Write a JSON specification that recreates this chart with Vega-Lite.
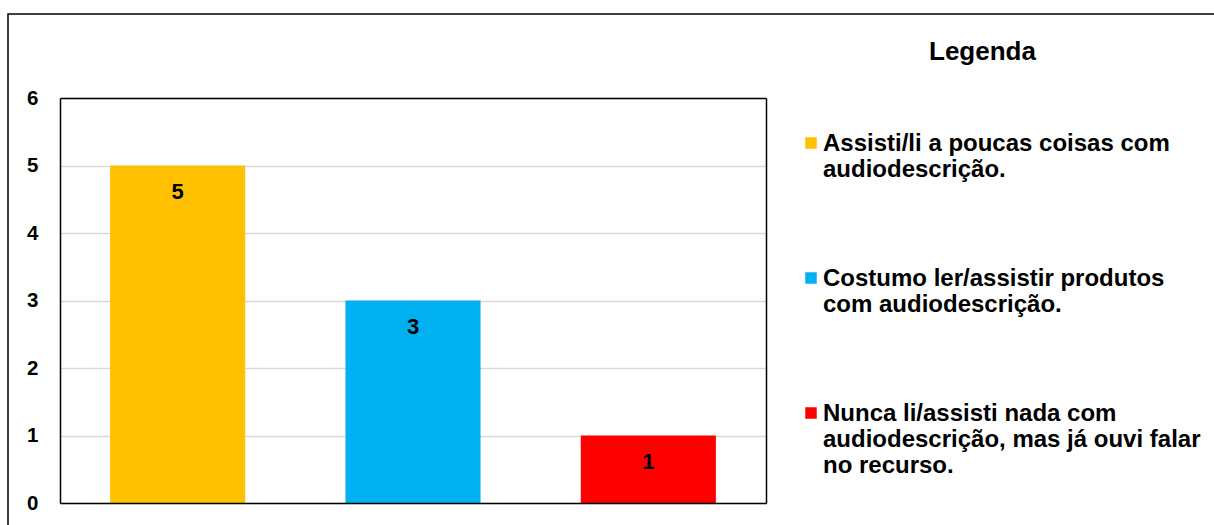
{
  "$schema": "https://vega.github.io/schema/vega-lite/v6.json",
  "autosize": {"type": "none"},
  "padding": {"left": 8, "top": 14, "right": -5, "bottom": -3},
  "width": 1211,
  "height": 514,
  "background": "#ffffff",
  "config": {
    "font": "Liberation Sans",
    "view": {"stroke": "#000000", "strokeWidth": 1.5}
  },
  "data": {
    "values": [
      {"categoria": "Assisti/li a poucas coisas com\naudiodescrição.", "valor": 5},
      {"categoria": "Costumo ler/assistir produtos\ncom audiodescrição.", "valor": 3},
      {"categoria": "Nunca li/assisti nada com\naudiodescrição, mas já ouvi falar\nno recurso.", "valor": 1}
    ]
  },
  "resolve": {"axis": {"x": "independent", "y": "independent"}},
  "layer": [
    {
      "mark": {"type": "bar"},
      "encoding": {
        "x": {
          "field": "categoria", "type": "nominal", "sort": null,
          "scale": {"range": [52, 758], "paddingInner": 0.426, "paddingOuter": 0.213},
          "axis": {"orient": "bottom", "offset": -25, "title": null, "labels": false, "ticks": false, "tickSize": 0, "grid": false, "domain": true, "domainColor": "#000000", "domainWidth": 1.5, "zindex": 1}
        },
        "y": {
          "field": "valor", "type": "quantitative",
          "scale": {"domain": [0, 6], "range": [489, 84], "nice": false},
          "axis": {"orient": "left", "offset": -52, "title": null, "values": [0, 1, 2, 3, 4, 5, 6], "labelFontSize": 20.5, "labelFontWeight": "bold", "labelColor": "#000000", "labelFont": "Liberation Sans", "labelPadding": 22, "ticks": false, "tickSize": 0, "grid": true, "gridColor": "#d9d9d9", "gridWidth": 1.3, "domain": true, "domainColor": "#000000", "domainWidth": 1.5, "zindex": 0}
        },
        "color": {
          "field": "categoria", "type": "nominal", "sort": null,
          "scale": {
            "domain": [
              "Assisti/li a poucas coisas com\naudiodescrição.",
              "Costumo ler/assistir produtos\ncom audiodescrição.",
              "Nunca li/assisti nada com\naudiodescrição, mas já ouvi falar\nno recurso."
            ],
            "range": ["#FFC000", "#00B0F0", "#FF0000"]
          },
          "legend": {
            "orient": "none",
            "legendX": 791,
            "legendY": 27,
            "padding": 0,
            "title": "Legenda",
            "titleFont": "Liberation Sans",
            "titleFontSize": 26,
            "titleFontWeight": "bold",
            "titleColor": "#000000",
            "titleAnchor": "start",
            "titleBaseline": "top",
            "titlePadding": 64,
            "labelFont": "Liberation Sans",
            "labelFontSize": 24,
            "labelFontWeight": "bold",
            "labelColor": "#000000",
            "labelLimit": 600,
            "labelBaseline": "top",
            "labelLineHeight": 25.5,
            "labelOffset": 0,
            "labelExpr": "split(datum.label, '\\n')",
            "symbolType": "square",
            "symbolSize": 132,
            "symbolStrokeWidth": 0,
            "symbolOpacity": 1,
            "rowPadding": 84,
            "encode": {
              "labels": {"update": {"dy": {"value": -11}}},
              "title": {"update": {"dx": {"value": 130}, "dy": {"value": -2}}}
            }
          }
        }
      }
    },
    {
      "mark": {"type": "text", "fontSize": 22, "fontWeight": "bold", "color": "#000000", "baseline": "middle", "dy": 26, "font": "Liberation Sans"},
      "encoding": {
        "x": {
          "field": "categoria", "type": "nominal", "sort": null,
          "axis": {"orient": "top", "offset": -84, "title": null, "labels": false, "ticks": false, "tickSize": 0, "grid": false, "domain": true, "domainColor": "#000000", "domainWidth": 1.5, "zindex": 1}
        },
        "y": {
          "field": "valor", "type": "quantitative",
          "axis": {"orient": "right", "offset": -453, "title": null, "labels": false, "ticks": false, "tickSize": 0, "grid": false, "domain": true, "domainColor": "#000000", "domainWidth": 1.5, "zindex": 1}
        },
        "text": {"field": "valor", "type": "quantitative"}
      }
    }
  ]
}
